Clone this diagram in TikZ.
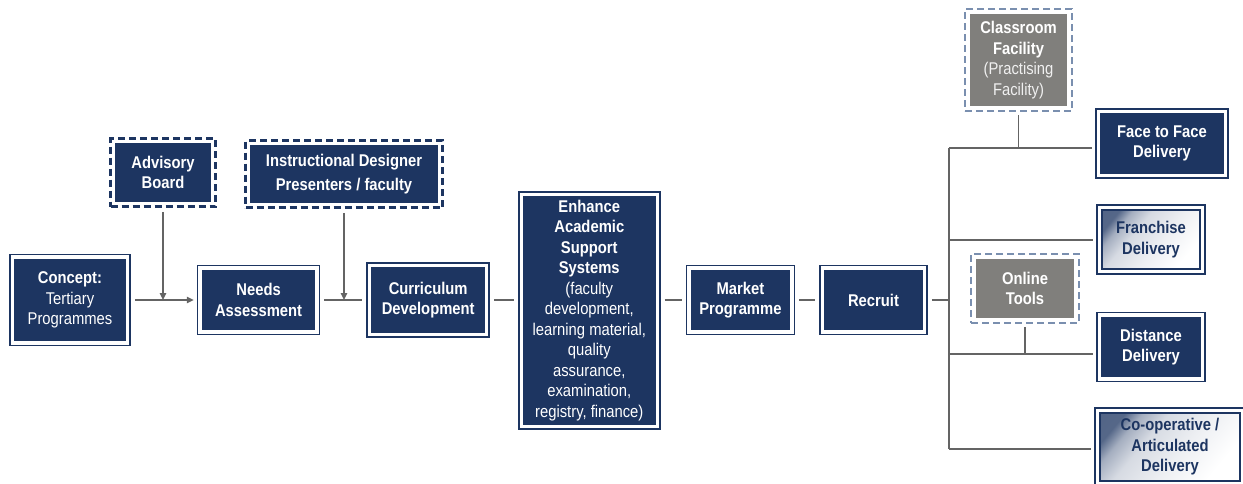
\documentclass[tikz,border=0pt]{standalone}
\usepackage{fontspec}
\setmainfont{Liberation Sans}[FakeStretch=0.87]
\usepackage{xcolor}
\usetikzlibrary{arrows.meta, positioning, fit}
\definecolor{navy}{RGB}{29,53,97}
\definecolor{boxgray}{RGB}{128,127,124}
\definecolor{dashblue}{RGB}{122,143,175}
\definecolor{linegray}{RGB}{100,100,100}
\pgfdeclarehorizontalshading{fadeshade}{100bp}{color(0bp)=(navy!80); color(25bp)=(navy!75); color(31bp)=(navy!40); color(40bp)=(navy!18); color(55bp)=(navy!8); color(72bp)=(white); color(100bp)=(white)}

\begin{document}
\begin{tikzpicture}[
    x=1pt, y=-1pt,
    box/.style={rectangle, draw=navy, double=white, double distance=3.4pt, line width=1.6pt, fill=navy, text=white, outer sep=3.3pt, inner sep=2pt, align=center, font=\fontsize{17}{20.5}\selectfont\bfseries},
    fadebox/.style={box, shading=fadeshade, shading angle=-40, text=navy},
    innerbox/.style={rectangle, fill=navy, text=white, outer sep=0pt, inner sep=2pt, align=center, font=\fontsize{17}{20.5}\selectfont\bfseries},
    graybox/.style={innerbox, fill=boxgray},
    dashframe/.style={rectangle, draw=navy, line width=2.5pt, dash pattern=on 7pt off 4pt, inner sep=4.5pt},
    lightframe/.style={dashframe, draw=dashblue, line width=2pt, inner sep=5pt},
    link/.style={draw=linegray, line width=1.3pt, shorten <=4pt, shorten >=4pt},
    arrow/.style={link, -{Triangle[length=7pt, width=6.5pt]}}
]
\clip (0,0) rectangle (1243,483);

% main chain
\node[box, minimum width=115pt, minimum height=86pt] (concept) at (70,300) {Concept:\\\mdseries Tertiary\\\mdseries Programmes};
\node[box, minimum width=117pt, minimum height=64pt, right=66pt of concept] (needs) {Needs\\Assessment};
\node[box, minimum width=117pt, minimum height=69pt, right=46pt of needs] (curr) {Curriculum\\Development};
\node[box, minimum width=136pt, minimum height=232pt, right=28pt of curr, yshift=-10.5pt] (enh) {Enhance\\Academic\\Support\\Systems\\\mdseries (faculty\\\mdseries development,\\\mdseries learning material,\\\mdseries quality\\\mdseries assurance,\\\mdseries examination,\\\mdseries registry, finance)};
\node[box, minimum width=103pt, minimum height=64pt, right=25pt of curr.east -| enh.east] (market) {Market\\Programme};
\node[box, minimum width=102pt, minimum height=64pt, right=24pt of market] (recruit) {Recruit};

% inputs
\node[innerbox, minimum width=96pt, minimum height=59pt] (adv) at (163,172.5) {Advisory\\Board};
\node[dashframe, fit=(adv)] (advframe) {};
\node[innerbox, minimum width=188pt, minimum height=58pt] (instr) at (344,174) {Instructional Designer\\[3pt]Presenters / faculty};
\node[dashframe, fit=(instr)] (instrframe) {};

% delivery
\node[box, minimum width=127pt, minimum height=64pt] (face) at (1162,143.5) {Face to Face\\Delivery};
\node[fadebox, minimum width=103pt, minimum height=64pt] (franchise) at (1151,239.5) {Franchise\\Delivery};
\node[box, minimum width=103pt, minimum height=64pt, below=37pt of franchise] (distance) {Distance\\Delivery};
\node[fadebox, minimum width=145pt, minimum height=73pt] (coop) at (1170,447) {Co-operative /\\Articulated\\Delivery};

\node[graybox, minimum width=97pt, minimum height=92pt] (class) at (1018.5,60) {Classroom\\Facility\\\mdseries\color{white!88!gray}(Practising\\\mdseries\color{white!88!gray}Facility)};
\node[lightframe, fit=(class)] (classframe) {};
\node[graybox, minimum width=98pt, minimum height=59pt] (online) at (1025,288.5) {Online\\Tools};
\node[lightframe, fit=(online)] (onlineframe) {};

% bus
\coordinate (bustop) at (949,148);
\coordinate (busmid1) at (949,240);
\coordinate (busmid2) at (949,354);
\coordinate (busbot) at (949,449);
\coordinate (advjoin) at (adv |- concept.east);
\coordinate (instrjoin) at (instr |- needs.west);

% connectors
\draw[arrow, shorten >=3pt] (concept) -- (needs);
\draw[arrow, shorten >=0pt] (advframe.south) -- (advjoin);
\draw[arrow, shorten >=0pt] (instrframe.south) -- (instrjoin);
\draw[link] (needs) -- (curr);
\draw[link] (curr.east) -- (curr.east -| enh.west);
\draw[link] (enh.east |- market.west) -- (market.west);
\draw[link] (market) -- (recruit);
\draw[link, shorten >=0pt] (recruit.east) -- (recruit.east -| bustop);
\draw[link, shorten <=0pt, shorten >=0pt] (bustop) -- (busbot);
\draw[link, shorten <=0pt, shorten >=3pt] (bustop) -- (bustop -| face.west);
\draw[link, shorten <=0pt, shorten >=3pt] (busmid1) -- (busmid1 -| franchise.west);
\draw[link, shorten <=0pt, shorten >=3pt] (busmid2) -- (busmid2 -| distance.west);
\draw[link, shorten <=0pt, shorten >=3pt] (busbot) -- (busbot -| coop.west);
\draw[link, shorten <=3pt, shorten >=0pt] (classframe.south) -- (classframe.south |- bustop);
\draw[link, shorten <=3pt, shorten >=0pt] (onlineframe.south) -- (onlineframe.south |- busmid2);
\end{tikzpicture}
\end{document}
